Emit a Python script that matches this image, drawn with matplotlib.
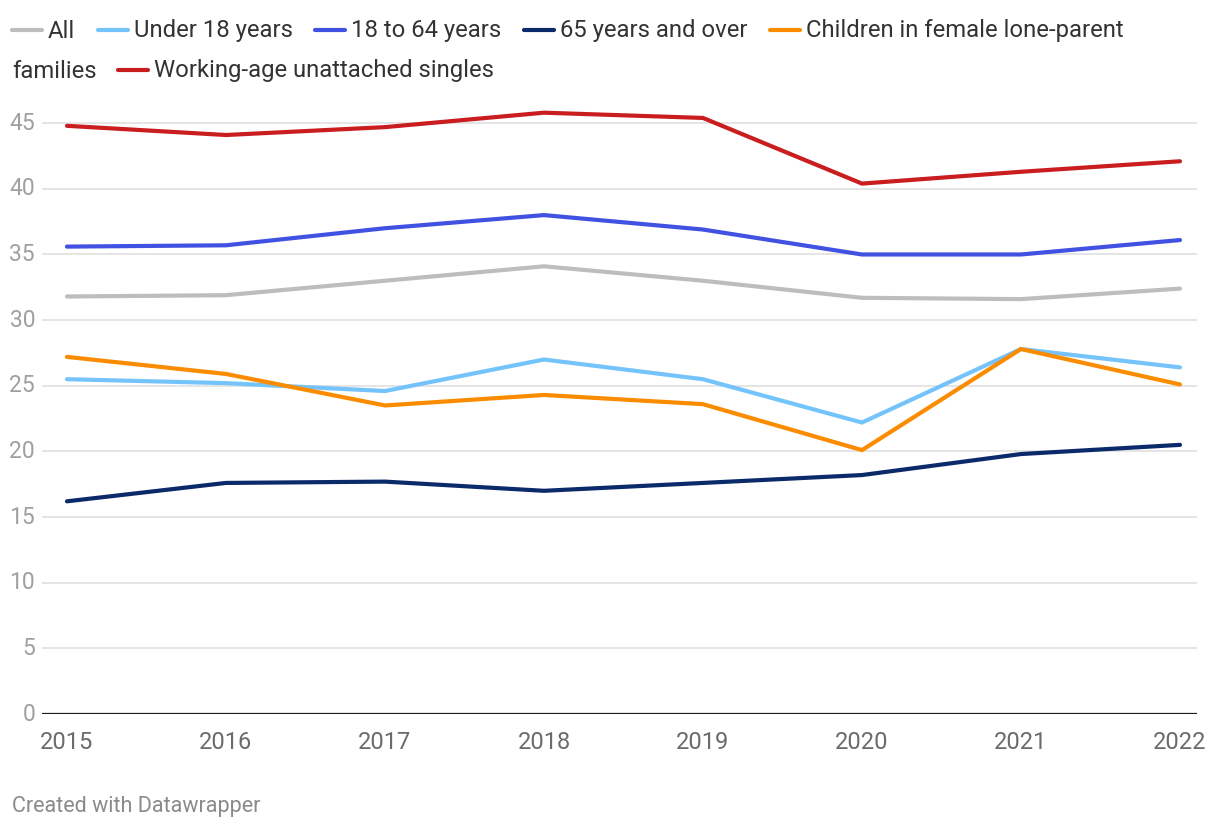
import matplotlib
matplotlib.use("Agg")
import matplotlib.pyplot as plt
from matplotlib.lines import Line2D

plt.rcParams['font.family'] = ['Roboto', 'DejaVu Sans']

years = [2015, 2016, 2017, 2018, 2019, 2020, 2021, 2022]
all_ages = [31.8, 31.9, 33.0, 34.1, 33.0, 31.7, 31.6, 32.4]
under_18 = [25.5, 25.2, 24.6, 27.0, 25.5, 22.2, 27.8, 26.4]
age_18_64 = [35.6, 35.7, 37.0, 38.0, 36.9, 35.0, 35.0, 36.1]
age_65_over = [16.2, 17.6, 17.7, 17.0, 17.6, 18.2, 19.8, 20.5]
female_lone_parent = [27.2, 25.9, 23.5, 24.3, 23.6, 20.1, 27.8, 25.1]
unattached_singles = [44.8, 44.1, 44.7, 45.8, 45.4, 40.4, 41.3, 42.1]

series_names = ["All", "Under 18 years", "18 to 64 years", "65 years and over",
                "Children in female lone-parent families", "Working-age unattached singles"]
series_values = [all_ages, under_18, age_18_64, age_65_over, female_lone_parent, unattached_singles]
colors = ["#bdbdbd", "#74c4fb", "#4152e3", "#0b2a6a", "#fb8c00", "#c91d20"]
y_ticks = [0, 5, 10, 15, 20, 25, 30, 35, 40, 45]

W, H = 1220, 830
fig = plt.figure(figsize=(W / 100, H / 100), dpi=100)

ax_left, ax_right = 42, 1197
ax_bottom, ax_top = 714, 103.5
ax = fig.add_axes([ax_left / W, 1 - ax_bottom / H, (ax_right - ax_left) / W, (ax_bottom - ax_top) / H])

for vals, c in zip(series_values, colors):
    ax.plot(years, vals, color=c, lw=3.0, solid_capstyle='round', solid_joinstyle='miter', zorder=3)

ax.set_xlim(2014.843, 2022.107)
ax.set_ylim(0, 46.5)
ax.set_yticks(y_ticks)
ax.set_xticks(years)
ax.set_xticklabels([str(y) for y in years])
for s in ax.spines.values():
    s.set_visible(False)
ax.grid(axis='y', color='#e5e5e5', lw=1.4, zorder=0)
ax.grid(axis='x', visible=False)
ax.axhline(0, color='#1a1a1a', lw=1.6, zorder=4)
ax.tick_params(axis='y', length=0, pad=5, labelsize=16.5, labelcolor='#a0a0a0')
ax.tick_params(axis='x', length=0, pad=12, labelsize=17, labelcolor='#6b6b6b')
for lbl in ax.get_yticklabels():
    lbl.set_verticalalignment('center')

# Legend (manual, wrapping like the original)
def fx(px):
    return px / W

def fy(py):
    return 1 - py / H

legend_text_color = '#333333'
fs = 17.2
row1 = 31
row2 = 71
entries = [
    (12, 48, row1, "All", colors[0]),
    (98, 134, row1, "Under 18 years", colors[1]),
    (315, 351, row1, "18 to 64 years", colors[2]),
    (524, 560, row1, "65 years and over", colors[3]),
    (770, 806, row1, "Children in female lone-parent", colors[4]),
    (118, 154, row2, "Working-age unattached singles", colors[5]),
]
for hx, tx, ry, label, c in entries:
    fig.add_artist(Line2D([fx(hx), fx(hx + 30)], [fy(ry - 1), fy(ry - 1)], color=c, lw=3.0,
                          solid_capstyle='round', transform=fig.transFigure))
    fig.text(fx(tx), fy(ry), label, ha='left', va='center', fontsize=fs, color=legend_text_color)
fig.text(fx(12), fy(row2), "families", ha='left', va='center', fontsize=fs, color=legend_text_color)

fig.text(fx(12), fy(806), "Created with Datawrapper", ha='left', va='center', fontsize=15.5, color='#8a8a8a')

fig.savefig("out.png", dpi=100, facecolor='white')
